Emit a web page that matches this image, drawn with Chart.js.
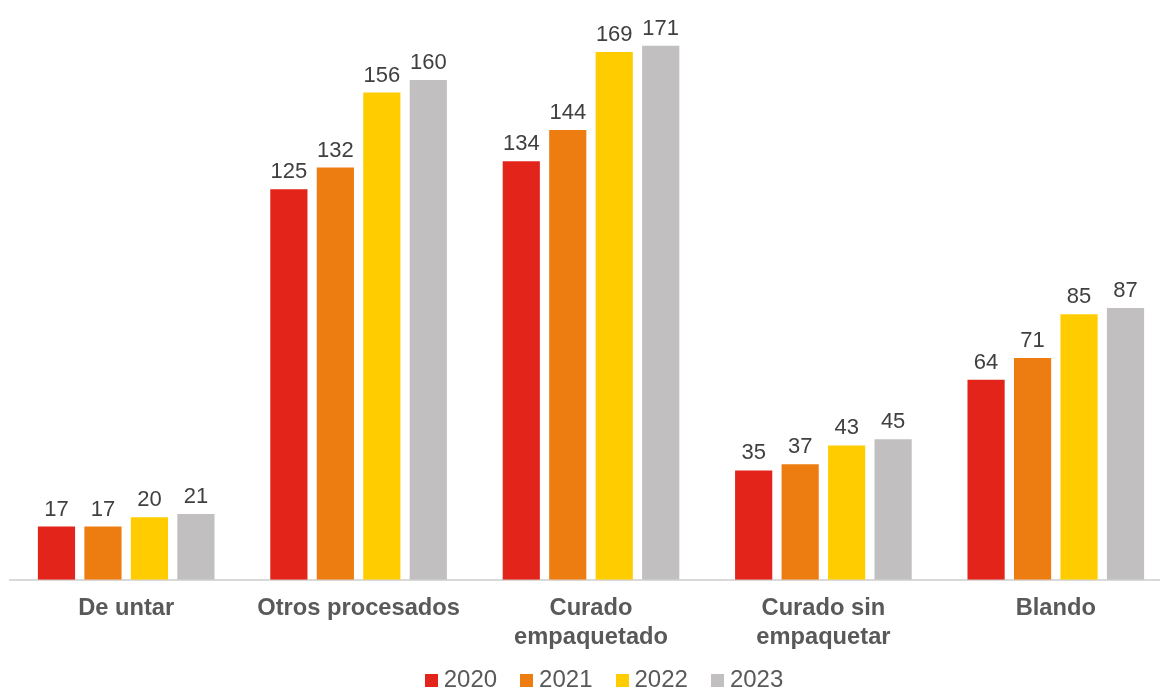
<!DOCTYPE html>
<html>
<head>
<meta charset="utf-8">
<script src="https://cdn.jsdelivr.net/npm/chart.js@4.4.1/dist/chart.umd.min.js"></script>
<style>
  html, body { margin: 0; padding: 0; background: #fff; overflow: hidden; }
  #wrap { width: 1172px; height: 690px; }
</style>
</head>
<body>
<div id="wrap"><canvas id="chart"></canvas></div>
<script>
// categories and yearly values
const categories = [
  'De untar',
  'Otros procesados',
  ['Curado', 'empaquetado'],
  ['Curado sin', 'empaquetar'],
  'Blando'
]
const years = ['2020', '2021', '2022', '2023']
const values2020 = [17, 125, 134, 35, 64]
const values2021 = [17, 132, 144, 37, 71]
const values2022 = [20, 156, 169, 43, 85]
const values2023 = [21, 160, 171, 45, 87]
const colors = ['#E3241B', '#EE7D11', '#FFCC00', '#C1BFC0']

const seriesValues = [values2020, values2021, values2022, values2023]
const FONT = '"Liberation Sans", Arial, sans-serif'

// little square swatches for the legend
function swatch(color) {
  const c = document.createElement('canvas')
  c.width = 13
  c.height = 13
  const cx = c.getContext('2d')
  cx.fillStyle = color
  cx.fillRect(0, 0, 13, 13)
  return c
}
const swatches = colors.map(swatch)

// value labels above each bar
const barLabels = {
  id: 'barLabels',
  afterDatasetsDraw(chart) {
    const ctx = chart.ctx
    ctx.save()
    ctx.font = '22px ' + FONT
    ctx.fillStyle = '#404040'
    ctx.textAlign = 'center'
    ctx.textBaseline = 'bottom'
    chart.data.datasets.forEach((ds, i) => {
      chart.getDatasetMeta(i).data.forEach((bar, j) => {
        ctx.fillText(ds.data[j], bar.x, bar.y - 6)
      })
    })
    ctx.restore()
  }
}

// pull the legend up closer to the axis labels
const legendNudge = {
  id: 'legendNudge',
  afterLayout(chart) {
    const lg = chart.legend
    const h = lg.bottom - lg.top
    lg.top = chart.chartArea.bottom + 60
    lg.bottom = lg.top + h
    lg.left += 16
    lg.right += 16
  }
}

new Chart(document.getElementById('chart').getContext('2d'), {
  type: 'bar',
  data: {
    labels: categories,
    datasets: years.map((y, i) => ({
      label: y,
      data: seriesValues[i],
      backgroundColor: colors[i],
      barPercentage: 0.8,
      categoryPercentage: 0.8
    }))
  },
  options: {
    responsive: true,
    maintainAspectRatio: false,
    animation: false,
    layout: { padding: { left: 10, right: 0, top: 2, bottom: -31 } },
    plugins: {
      tooltip: { enabled: false },
      legend: {
        position: 'bottom',
        labels: {
          usePointStyle: true,
          boxWidth: 1,
          boxHeight: 13,
          padding: 29,
          color: '#595959',
          font: { family: FONT, size: 24 },
          generateLabels(chart) {
            const items = Chart.defaults.plugins.legend.labels.generateLabels(chart)
            items.forEach((it, i) => { it.pointStyle = swatches[i] })
            return items
          }
        }
      }
    },
    scales: {
      y: { display: false, min: 0, max: 185 },
      x: {
        grid: { display: false },
        border: { display: true, color: '#D9D9D9', width: 2 },
        ticks: {
          color: '#595959',
          padding: 6,
          font: { family: FONT, size: 23.7, weight: 'bold', lineHeight: 1.23 }
        }
      }
    }
  },
  plugins: [barLabels, legendNudge]
})
</script>
</body>
</html>
